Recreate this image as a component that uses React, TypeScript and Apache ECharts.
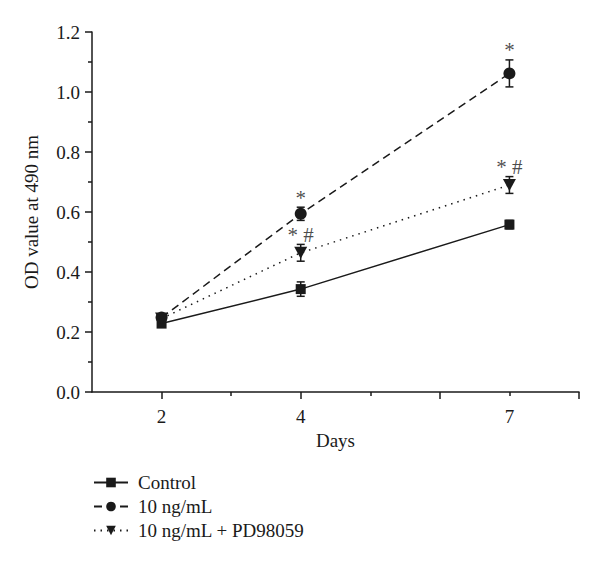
import React, { useEffect, useRef } from "react";
import * as echarts from "echarts";

const days = [2, 4, 7];
const controlMean = [0.228, 0.343, 0.558];
const controlErr = [0.01, 0.024, 0.014];
const ngMean = [0.248, 0.594, 1.062];
const ngErr = [0.012, 0.022, 0.045];
const pdMean = [0.245, 0.464, 0.69];
const pdErr = [0.012, 0.028, 0.028];
const ngMarks = ["", "*", "*"];
const pdMarks = ["", "* #", "* #"];
const xLabelValues = [2, 4, 7];
const xMajorTicks = [2, 4, 6, 8];
const xMinorTicks = [3, 5, 7];
const seriesNames = ["Control", "10 ng/mL", "10 ng/mL + PD98059"];

const FONT = "Liberation Serif";
const INK = "#1a1a1a";
const FS = 19;

function errSeries(mean: number[], err: number[], name: string) {
  return {
    type: "custom",
    name: name + "_err",
    silent: true,
    z: 3,
    data: days.map((d, i) => [d, mean[i] - err[i], mean[i] + err[i]]),
    renderItem: (_params: any, api: any) => {
      const x = api.value(0);
      const lo = api.coord([x, api.value(1)]);
      const hi = api.coord([x, api.value(2)]);
      const cap = 4;
      const style = { stroke: INK, lineWidth: 1.5 };
      return {
        type: "group",
        children: [
          { type: "line", shape: { x1: lo[0], y1: lo[1], x2: hi[0], y2: hi[1] }, style },
          { type: "line", shape: { x1: lo[0] - cap, y1: lo[1], x2: lo[0] + cap, y2: lo[1] }, style },
          { type: "line", shape: { x1: hi[0] - cap, y1: hi[1], x2: hi[0] + cap, y2: hi[1] }, style },
        ],
      };
    },
  };
}

function markSeries(mean: number[], err: number[], marks: string[]) {
  return {
    type: "scatter",
    silent: true,
    symbolSize: 0,
    z: 4,
    data: days
      .map((d, i) => ({ value: [d, mean[i] + err[i]], mark: marks[i] }))
      .filter((p) => p.mark !== ""),
    label: {
      show: true,
      position: "top",
      distance: -1,
      formatter: (p: any) => p.data.mark,
      fontFamily: FONT,
      fontSize: 21,
      color: INK,
    },
  };
}

export default function App() {
  const ref = useRef<HTMLDivElement>(null);
  useEffect(() => {
    document.body.style.margin = "0";
    if (!ref.current) return;
    const chart = echarts.init(ref.current, undefined, { renderer: "svg" });
    const lineBase = {
      type: "line",
      color: INK,
      z: 5,
      symbolKeepAspect: true,
    };
    chart.setOption({
      animation: false,
      textStyle: { fontFamily: FONT, color: INK },
      grid: { left: 92, right: 21, top: 32, bottom: 173, containLabel: false },
      legend: {
        orient: "vertical",
        left: 88,
        top: 468,
        itemWidth: 34,
        itemHeight: 12,
        itemGap: 5,
        data: seriesNames,
        textStyle: { fontFamily: FONT, fontSize: FS, color: INK, padding: [0, 0, 0, 5] },
      },
      xAxis: [
        {
          type: "value",
          min: 1,
          max: 8,
          interval: 1,
          name: "Days",
          nameLocation: "middle",
          nameGap: 38,
          nameTextStyle: { fontFamily: FONT, fontSize: FS, color: INK },
          axisLine: { show: true, onZero: false, lineStyle: { color: INK, width: 1.5 } },
          axisTick: { show: true, inside: false, length: 7, customValues: xMajorTicks, lineStyle: { color: INK, width: 1.5 } },
          axisLabel: { show: true, customValues: xLabelValues, margin: 15, fontFamily: FONT, fontSize: FS, color: INK },
          splitLine: { show: false },
        },
        {
          type: "value",
          min: 1,
          max: 8,
          interval: 1,
          position: "bottom",
          axisLine: { show: false },
          axisTick: { show: true, inside: false, length: 4, customValues: xMinorTicks, lineStyle: { color: INK, width: 1.5 } },
          axisLabel: { show: false },
          splitLine: { show: false },
        },
      ],
      yAxis: {
        type: "value",
        min: 0,
        max: 1.2,
        interval: 0.2,
        name: "OD value at 490 nm",
        nameLocation: "middle",
        nameGap: 51,
        nameTextStyle: { fontFamily: FONT, fontSize: FS, color: INK },
        axisLine: { show: true, lineStyle: { color: INK, width: 1.5 } },
        axisTick: { show: true, inside: false, length: 7, lineStyle: { color: INK, width: 1.5 } },
        minorTick: { show: true, splitNumber: 2, length: 4, lineStyle: { color: INK, width: 1.5 } },
        axisLabel: { margin: 12, fontFamily: FONT, fontSize: FS, color: INK, formatter: (v: number) => v.toFixed(1) },
        splitLine: { show: false },
      },
      series: [
        {
          ...lineBase,
          name: seriesNames[0],
          data: days.map((d, i) => [d, controlMean[i]]),
          symbol: "rect",
          symbolSize: 10,
          itemStyle: { color: INK },
          lineStyle: { color: INK, width: 1.5, type: "solid" },
        },
        {
          ...lineBase,
          name: seriesNames[1],
          data: days.map((d, i) => [d, ngMean[i]]),
          symbol: "circle",
          symbolSize: 12,
          itemStyle: { color: INK },
          lineStyle: { color: INK, width: 1.5, type: [8, 5] },
        },
        {
          ...lineBase,
          name: seriesNames[2],
          data: days.map((d, i) => [d, pdMean[i]]),
          symbol: "triangle",
          symbolRotate: 180,
          symbolSize: [13, 12],
          itemStyle: { color: INK },
          lineStyle: { color: INK, width: 1.5, type: [1.5, 5] },
        },
        errSeries(controlMean, controlErr, seriesNames[0]),
        errSeries(ngMean, ngErr, seriesNames[1]),
        errSeries(pdMean, pdErr, seriesNames[2]),
        markSeries(ngMean, ngErr, ngMarks),
        markSeries(pdMean, pdErr, pdMarks),
      ],
    });
    return () => chart.dispose();
  }, []);
  return <div ref={ref} style={{ width: 600, height: 565 }} />;
}
